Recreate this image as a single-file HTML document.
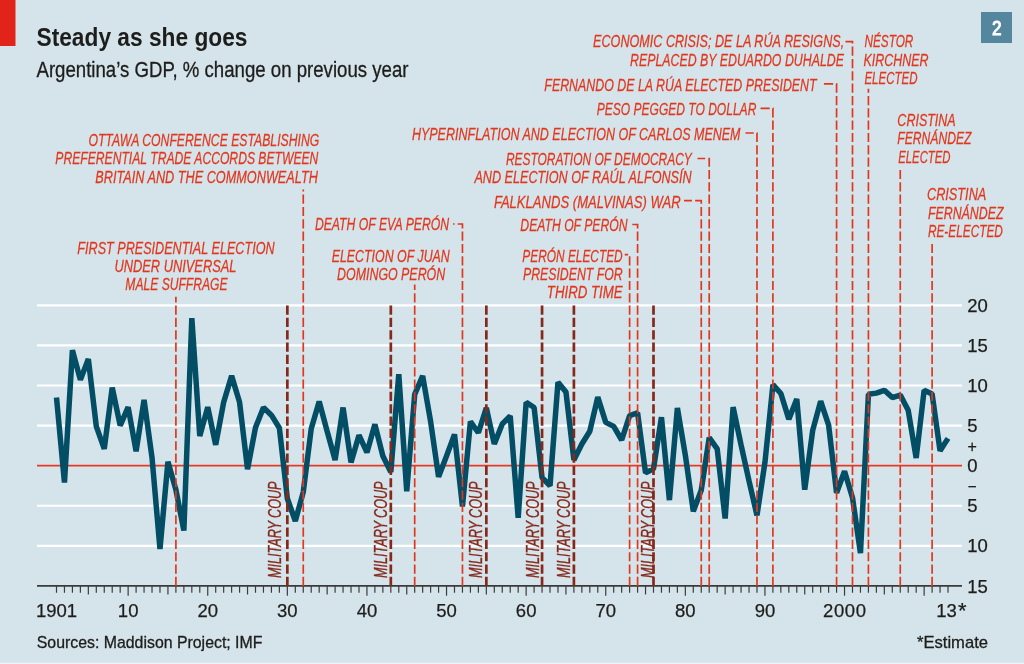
<!DOCTYPE html>
<html lang="en"><head><meta charset="utf-8">
<title>Steady as she goes</title>
<style>
html,body{margin:0;padding:0;background:#d5e4eb;}
body{width:1024px;height:664px;overflow:hidden;}
svg{display:block;will-change:transform;}
text{font-family:"Liberation Sans",sans-serif;}
.lab{font-style:italic;font-size:17.4px;fill:#e2371d;stroke:#e2371d;stroke-width:0.26px;}
.coup{font-style:italic;font-size:18px;fill:#86281a;stroke:#86281a;stroke-width:0.35px;}
.ax{font-size:18.5px;fill:#1d1d1b;stroke:#1d1d1b;stroke-width:0.25px;}
.src{font-size:16.4px;fill:#1d1d1b;stroke:#1d1d1b;stroke-width:0.3px;}
</style></head><body>
<svg width="1024" height="664" viewBox="0 0 1024 664">
<rect x="0" y="0" width="1024" height="664" fill="#d5e4eb"/>
<rect x="0" y="662.6" width="1024" height="1.4" fill="#eef3f6"/>
<rect x="0" y="0" width="15.5" height="46" fill="#e2231a"/>
<rect x="981" y="12" width="31" height="31" fill="#54879d"/>
<text x="991.9" y="35.0" font-size="20.8" fill="#ffffff" stroke="#ffffff" stroke-width="1.0" textLength="9.6" lengthAdjust="spacingAndGlyphs">2</text>
<text id="title" x="36.5" y="46.3" font-size="26" font-weight="bold" fill="#1d1d1b" textLength="211" lengthAdjust="spacingAndGlyphs">Steady as she goes</text>
<text id="sub" x="36.5" y="76.9" font-size="21.5" fill="#1d1d1b" stroke="#1d1d1b" stroke-width="0.3" textLength="372" lengthAdjust="spacingAndGlyphs">Argentina’s GDP, % change on previous year</text>
<line x1="37" x2="962" y1="305.31" y2="305.31" stroke="#ffffff" stroke-width="2.15"/>
<line x1="37" x2="962" y1="345.39" y2="345.39" stroke="#ffffff" stroke-width="2.15"/>
<line x1="37" x2="962" y1="385.48" y2="385.48" stroke="#ffffff" stroke-width="2.15"/>
<line x1="37" x2="962" y1="425.56" y2="425.56" stroke="#ffffff" stroke-width="2.15"/>
<line x1="37" x2="962" y1="505.73" y2="505.73" stroke="#ffffff" stroke-width="2.15"/>
<line x1="37" x2="962" y1="545.82" y2="545.82" stroke="#ffffff" stroke-width="2.15"/>
<line x1="37" x2="962" y1="465.65" y2="465.65" stroke="#e63a24" stroke-width="1.7"/>
<polyline fill="none" stroke="#034d65" stroke-width="5.5" stroke-linejoin="bevel" stroke-linecap="butt" points="56.50,397.51 64.46,482.49 72.42,350.21 80.38,379.87 88.34,359.02 96.30,426.37 104.26,448.81 112.22,387.48 120.18,425.56 128.14,407.13 136.10,451.22 144.06,399.91 152.02,457.63 159.98,549.03 167.94,461.64 175.90,489.70 183.86,530.59 191.82,318.14 199.78,435.99 207.74,407.13 215.70,444.81 223.66,402.32 231.62,375.86 239.58,402.32 247.54,469.26 255.50,427.57 263.46,407.53 271.42,415.14 279.38,427.97 287.34,498.52 295.30,520.97 303.26,492.11 311.22,428.77 319.18,401.51 327.14,431.18 335.10,460.04 343.06,407.53 351.02,462.44 358.98,435.19 366.94,452.42 374.90,424.36 382.86,456.03 390.82,472.06 398.78,374.26 406.74,491.30 414.70,394.30 422.66,375.86 430.62,421.56 438.58,476.87 446.54,456.03 454.50,434.38 462.46,506.54 470.42,421.56 478.38,432.78 486.34,407.93 494.30,444.00 502.26,423.96 510.22,415.94 518.18,517.76 526.14,402.32 534.10,407.53 542.06,477.68 550.02,485.69 557.98,382.27 565.94,391.89 573.90,460.04 581.86,444.00 589.82,431.18 597.78,397.10 605.74,422.36 613.70,426.37 621.66,440.00 629.62,415.54 637.58,412.74 645.54,472.87 653.50,468.86 661.46,417.15 669.42,500.12 677.38,407.93 685.34,455.23 693.30,511.35 701.26,490.10 709.22,437.59 717.18,448.81 725.14,518.56 733.10,407.13 741.06,444.81 749.02,480.88 756.98,515.36 764.94,462.44 772.90,384.68 780.86,393.50 788.82,419.15 796.78,399.11 804.74,489.70 812.70,430.38 820.66,401.11 828.62,425.16 836.58,492.91 844.54,471.26 852.50,497.72 860.46,553.04 868.42,394.30 876.38,393.10 884.34,390.29 892.30,397.51 900.26,395.10 908.22,410.33 916.18,458.03 924.14,390.29 932.10,393.90 940.06,450.82 948.02,438.39"/>
<line x1="37" x2="962" y1="585.90" y2="585.90" stroke="#3a3a3a" stroke-width="1.8"/>
<path d="M56.50,585.90 V592.80 M64.46,585.90 V592.80 M72.42,585.90 V592.80 M80.38,585.90 V592.80 M88.34,585.90 V594.40 M96.30,585.90 V592.80 M104.26,585.90 V592.80 M112.22,585.90 V592.80 M120.18,585.90 V592.80 M128.14,585.90 V595.70 M136.10,585.90 V592.80 M144.06,585.90 V592.80 M152.02,585.90 V592.80 M159.98,585.90 V592.80 M167.94,585.90 V594.40 M175.90,585.90 V592.80 M183.86,585.90 V592.80 M191.82,585.90 V592.80 M199.78,585.90 V592.80 M207.74,585.90 V595.70 M215.70,585.90 V592.80 M223.66,585.90 V592.80 M231.62,585.90 V592.80 M239.58,585.90 V592.80 M247.54,585.90 V594.40 M255.50,585.90 V592.80 M263.46,585.90 V592.80 M271.42,585.90 V592.80 M279.38,585.90 V592.80 M287.34,585.90 V595.70 M295.30,585.90 V592.80 M303.26,585.90 V592.80 M311.22,585.90 V592.80 M319.18,585.90 V592.80 M327.14,585.90 V594.40 M335.10,585.90 V592.80 M343.06,585.90 V592.80 M351.02,585.90 V592.80 M358.98,585.90 V592.80 M366.94,585.90 V595.70 M374.90,585.90 V592.80 M382.86,585.90 V592.80 M390.82,585.90 V592.80 M398.78,585.90 V592.80 M406.74,585.90 V594.40 M414.70,585.90 V592.80 M422.66,585.90 V592.80 M430.62,585.90 V592.80 M438.58,585.90 V592.80 M446.54,585.90 V595.70 M454.50,585.90 V592.80 M462.46,585.90 V592.80 M470.42,585.90 V592.80 M478.38,585.90 V592.80 M486.34,585.90 V594.40 M494.30,585.90 V592.80 M502.26,585.90 V592.80 M510.22,585.90 V592.80 M518.18,585.90 V592.80 M526.14,585.90 V595.70 M534.10,585.90 V592.80 M542.06,585.90 V592.80 M550.02,585.90 V592.80 M557.98,585.90 V592.80 M565.94,585.90 V594.40 M573.90,585.90 V592.80 M581.86,585.90 V592.80 M589.82,585.90 V592.80 M597.78,585.90 V592.80 M605.74,585.90 V595.70 M613.70,585.90 V592.80 M621.66,585.90 V592.80 M629.62,585.90 V592.80 M637.58,585.90 V592.80 M645.54,585.90 V594.40 M653.50,585.90 V592.80 M661.46,585.90 V592.80 M669.42,585.90 V592.80 M677.38,585.90 V592.80 M685.34,585.90 V595.70 M693.30,585.90 V592.80 M701.26,585.90 V592.80 M709.22,585.90 V592.80 M717.18,585.90 V592.80 M725.14,585.90 V594.40 M733.10,585.90 V592.80 M741.06,585.90 V592.80 M749.02,585.90 V592.80 M756.98,585.90 V592.80 M764.94,585.90 V595.70 M772.90,585.90 V592.80 M780.86,585.90 V592.80 M788.82,585.90 V592.80 M796.78,585.90 V592.80 M804.74,585.90 V594.40 M812.70,585.90 V592.80 M820.66,585.90 V592.80 M828.62,585.90 V592.80 M836.58,585.90 V592.80 M844.54,585.90 V595.70 M852.50,585.90 V592.80 M860.46,585.90 V592.80 M868.42,585.90 V592.80 M876.38,585.90 V592.80 M884.34,585.90 V594.40 M892.30,585.90 V592.80 M900.26,585.90 V592.80 M908.22,585.90 V592.80 M916.18,585.90 V592.80 M924.14,585.90 V595.70 M932.10,585.90 V592.80 M940.06,585.90 V592.80 M948.02,585.90 V592.80" stroke="#3c3c3c" stroke-width="1.2" fill="none"/>
<path d="M175.90,586.00 V296.70" fill="none" stroke="#e2371d" stroke-width="1.7" stroke-dasharray="9.2 3.13"/>
<path d="M303.26,586.00 V189.60" fill="none" stroke="#e2371d" stroke-width="1.7" stroke-dasharray="9.2 3.13"/>
<path d="M414.70,586.00 V284.60" fill="none" stroke="#e2371d" stroke-width="1.7" stroke-dasharray="9.2 3.13"/>
<path d="M462.46,586.00 V224.00 H453.00" fill="none" stroke="#e2371d" stroke-width="1.7" stroke-dasharray="9.2 3.13"/>
<path d="M629.62,586.00 V254.60 H624.70" fill="none" stroke="#e2371d" stroke-width="1.7" stroke-dasharray="9.2 3.13"/>
<path d="M637.58,586.00 V224.50 H632.20" fill="none" stroke="#e2371d" stroke-width="1.7" stroke-dasharray="9.2 3.13"/>
<path d="M701.26,586.00 V200.70 H684.00" fill="none" stroke="#e2371d" stroke-width="1.7" stroke-dasharray="9.2 3.13"/>
<path d="M709.22,586.00 V158.50 H697.50" fill="none" stroke="#e2371d" stroke-width="1.7" stroke-dasharray="9.2 3.13"/>
<path d="M756.98,586.00 V133.00 H745.50" fill="none" stroke="#e2371d" stroke-width="1.7" stroke-dasharray="9.2 3.13"/>
<path d="M772.90,586.00 V108.30 H760.00" fill="none" stroke="#e2371d" stroke-width="1.7" stroke-dasharray="9.2 3.13"/>
<path d="M836.58,586.00 V83.90 H823.00" fill="none" stroke="#e2371d" stroke-width="1.7" stroke-dasharray="9.2 3.13"/>
<path d="M852.50,586.00 V41.70 H845.50" fill="none" stroke="#e2371d" stroke-width="1.7" stroke-dasharray="9.2 3.13"/>
<path d="M868.42,586.00 V88.70" fill="none" stroke="#e2371d" stroke-width="1.7" stroke-dasharray="9.2 3.13"/>
<path d="M900.26,586.00 V169.20" fill="none" stroke="#e2371d" stroke-width="1.7" stroke-dasharray="9.2 3.13"/>
<path d="M932.10,586.00 V243.80" fill="none" stroke="#e2371d" stroke-width="1.7" stroke-dasharray="9.2 3.13"/>
<path d="M287.34,586.00 V305.00" fill="none" stroke="#86281a" stroke-width="2.7" stroke-dasharray="9.2 3.13"/>
<text class="coup" transform="translate(280.94,577.9) rotate(-90)" textLength="96.4" lengthAdjust="spacingAndGlyphs">MILITARY COUP</text>
<path d="M390.82,586.00 V305.00" fill="none" stroke="#86281a" stroke-width="2.7" stroke-dasharray="9.2 3.13"/>
<text class="coup" transform="translate(386.72,577.9) rotate(-90)" textLength="96.4" lengthAdjust="spacingAndGlyphs">MILITARY COUP</text>
<path d="M486.34,586.00 V305.00" fill="none" stroke="#86281a" stroke-width="2.7" stroke-dasharray="9.2 3.13"/>
<text class="coup" transform="translate(482.34,577.9) rotate(-90)" textLength="96.4" lengthAdjust="spacingAndGlyphs">MILITARY COUP</text>
<path d="M542.06,586.00 V305.00" fill="none" stroke="#86281a" stroke-width="2.7" stroke-dasharray="9.2 3.13"/>
<text class="coup" transform="translate(538.76,577.9) rotate(-90)" textLength="96.4" lengthAdjust="spacingAndGlyphs">MILITARY COUP</text>
<path d="M573.90,586.00 V305.00" fill="none" stroke="#86281a" stroke-width="2.7" stroke-dasharray="9.2 3.13"/>
<text class="coup" transform="translate(570.20,577.9) rotate(-90)" textLength="96.4" lengthAdjust="spacingAndGlyphs">MILITARY COUP</text>
<path d="M653.50,586.00 V305.00" fill="none" stroke="#86281a" stroke-width="2.7" stroke-dasharray="9.2 3.13"/>
<text class="coup" transform="translate(654.40,577.9) rotate(-90)" textLength="96.4" lengthAdjust="spacingAndGlyphs">MILITARY COUP</text>
<text class="lab" id="L0" x="88.39" y="145.75" textLength="230.90" lengthAdjust="spacingAndGlyphs">OTTAWA CONFERENCE ESTABLISHING</text>
<text class="lab" id="L1" x="55.35" y="164.25" textLength="263.04" lengthAdjust="spacingAndGlyphs">PREFERENTIAL TRADE ACCORDS BETWEEN</text>
<text class="lab" id="L2" x="95.30" y="182.50" textLength="222.51" lengthAdjust="spacingAndGlyphs">BRITAIN AND THE COMMONWEALTH</text>
<text class="lab" id="L3" x="77.35" y="253.75" textLength="197.20" lengthAdjust="spacingAndGlyphs">FIRST PRESIDENTIAL ELECTION</text>
<text class="lab" id="L4" x="114.40" y="272.00" textLength="122.12" lengthAdjust="spacingAndGlyphs">UNDER UNIVERSAL</text>
<text class="lab" id="L5" x="125.30" y="290.25" textLength="102.25" lengthAdjust="spacingAndGlyphs">MALE SUFFRAGE</text>
<text class="lab" id="L6" x="314.88" y="230.30" textLength="134.25" lengthAdjust="spacingAndGlyphs">DEATH OF EVA PERÓN</text>
<text class="lab" id="L7" x="331.72" y="262.20" textLength="118.09" lengthAdjust="spacingAndGlyphs">ELECTION OF JUAN</text>
<text class="lab" id="L8" x="337.09" y="280.20" textLength="108.09" lengthAdjust="spacingAndGlyphs">DOMINGO PERÓN</text>
<text class="lab" id="L9" x="411.88" y="139.90" textLength="328.67" lengthAdjust="spacingAndGlyphs">HYPERINFLATION AND ELECTION OF CARLOS MENEM</text>
<text class="lab" id="L10" x="505.88" y="164.70" textLength="185.93" lengthAdjust="spacingAndGlyphs">RESTORATION OF DEMOCRACY</text>
<text class="lab" id="L11" x="474.46" y="183.25" textLength="217.14" lengthAdjust="spacingAndGlyphs">AND ELECTION OF RAÚL ALFONSÍN</text>
<text class="lab" id="L12" x="493.88" y="207.60" textLength="186.83" lengthAdjust="spacingAndGlyphs">FALKLANDS (MALVINAS) WAR</text>
<text class="lab" id="L13" x="520.35" y="230.50" textLength="107.25" lengthAdjust="spacingAndGlyphs">DEATH OF PERÓN</text>
<text class="lab" id="L14" x="522.30" y="261.50" textLength="100.41" lengthAdjust="spacingAndGlyphs">PERÓN ELECTED</text>
<text class="lab" id="L15" x="522.93" y="279.60" textLength="99.78" lengthAdjust="spacingAndGlyphs">PRESIDENT FOR</text>
<text class="lab" id="L16" x="546.82" y="298.30" textLength="75.89" lengthAdjust="spacingAndGlyphs">THIRD TIME</text>
<text class="lab" id="L17" x="593.09" y="47.10" textLength="251.10" lengthAdjust="spacingAndGlyphs">ECONOMIC CRISIS; DE LA RÚA RESIGNS,</text>
<text class="lab" id="L18" x="630.09" y="65.80" textLength="213.82" lengthAdjust="spacingAndGlyphs">REPLACED BY EDUARDO DUHALDE</text>
<text class="lab" id="L19" x="544.35" y="90.50" textLength="272.25" lengthAdjust="spacingAndGlyphs">FERNANDO DE LA RÚA ELECTED PRESIDENT</text>
<text class="lab" id="L20" x="596.72" y="115.20" textLength="159.62" lengthAdjust="spacingAndGlyphs">PESO PEGGED TO DOLLAR</text>
<text class="lab" id="L21" x="864.46" y="47.10" textLength="48.88" lengthAdjust="spacingAndGlyphs">NÉSTOR</text>
<text class="lab" id="L22" x="863.56" y="65.80" textLength="65.04" lengthAdjust="spacingAndGlyphs">KIRCHNER</text>
<text class="lab" id="L23" x="864.46" y="84.20" textLength="53.04" lengthAdjust="spacingAndGlyphs">ELECTED</text>
<text class="lab" id="L24" x="897.35" y="126.00" textLength="58.36" lengthAdjust="spacingAndGlyphs">CRISTINA</text>
<text class="lab" id="L25" x="897.35" y="144.40" textLength="74.09" lengthAdjust="spacingAndGlyphs">FERNÁNDEZ</text>
<text class="lab" id="L26" x="898.25" y="162.80" textLength="52.25" lengthAdjust="spacingAndGlyphs">ELECTED</text>
<text class="lab" id="L27" x="926.98" y="200.10" textLength="59.36" lengthAdjust="spacingAndGlyphs">CRISTINA</text>
<text class="lab" id="L28" x="927.88" y="218.80" textLength="75.67" lengthAdjust="spacingAndGlyphs">FERNÁNDEZ</text>
<text class="lab" id="L29" x="927.88" y="237.10" textLength="75.04" lengthAdjust="spacingAndGlyphs">RE-ELECTED</text>
<text class="ax" x="967.2" y="311.91">20</text>
<text class="ax" x="967.2" y="352.00">15</text>
<text class="ax" x="967.2" y="392.08">10</text>
<text class="ax" x="967.2" y="432.17">5</text>
<text class="ax" x="967.2" y="472.25">0</text>
<text class="ax" x="967.2" y="512.33">5</text>
<text class="ax" x="967.2" y="552.42">10</text>
<text class="ax" x="967.2" y="592.50">15</text>
<text class="ax" x="967.6" y="451.6" style="font-size:16px">+</text>
<text class="ax" x="968.4" y="491.3" style="font-size:16px" textLength="7.4" lengthAdjust="spacingAndGlyphs">–</text>
<text class="ax" x="56.50" y="617.1" text-anchor="middle">1901</text>
<text class="ax" x="128.14" y="617.1" text-anchor="middle">10</text>
<text class="ax" x="207.74" y="617.1" text-anchor="middle">20</text>
<text class="ax" x="287.34" y="617.1" text-anchor="middle">30</text>
<text class="ax" x="366.94" y="617.1" text-anchor="middle">40</text>
<text class="ax" x="446.54" y="617.1" text-anchor="middle">50</text>
<text class="ax" x="526.14" y="617.1" text-anchor="middle">60</text>
<text class="ax" x="605.74" y="617.1" text-anchor="middle">70</text>
<text class="ax" x="685.34" y="617.1" text-anchor="middle">80</text>
<text class="ax" x="764.94" y="617.1" text-anchor="middle">90</text>
<text class="ax" x="844.54" y="617.1" text-anchor="middle" textLength="43" lengthAdjust="spacing">2000</text>
<text class="ax" x="936.3" y="617.1">13<tspan dx="1.2" dy="0.6" style="font-size:22px">*</tspan></text>
<text class="src" id="srcl" x="36.8" y="648" textLength="225.6" lengthAdjust="spacingAndGlyphs">Sources: Maddison Project; IMF</text>
<text class="src" id="est" x="988" y="648" text-anchor="end" textLength="71" lengthAdjust="spacingAndGlyphs">*Estimate</text>
</svg>
</body></html>
